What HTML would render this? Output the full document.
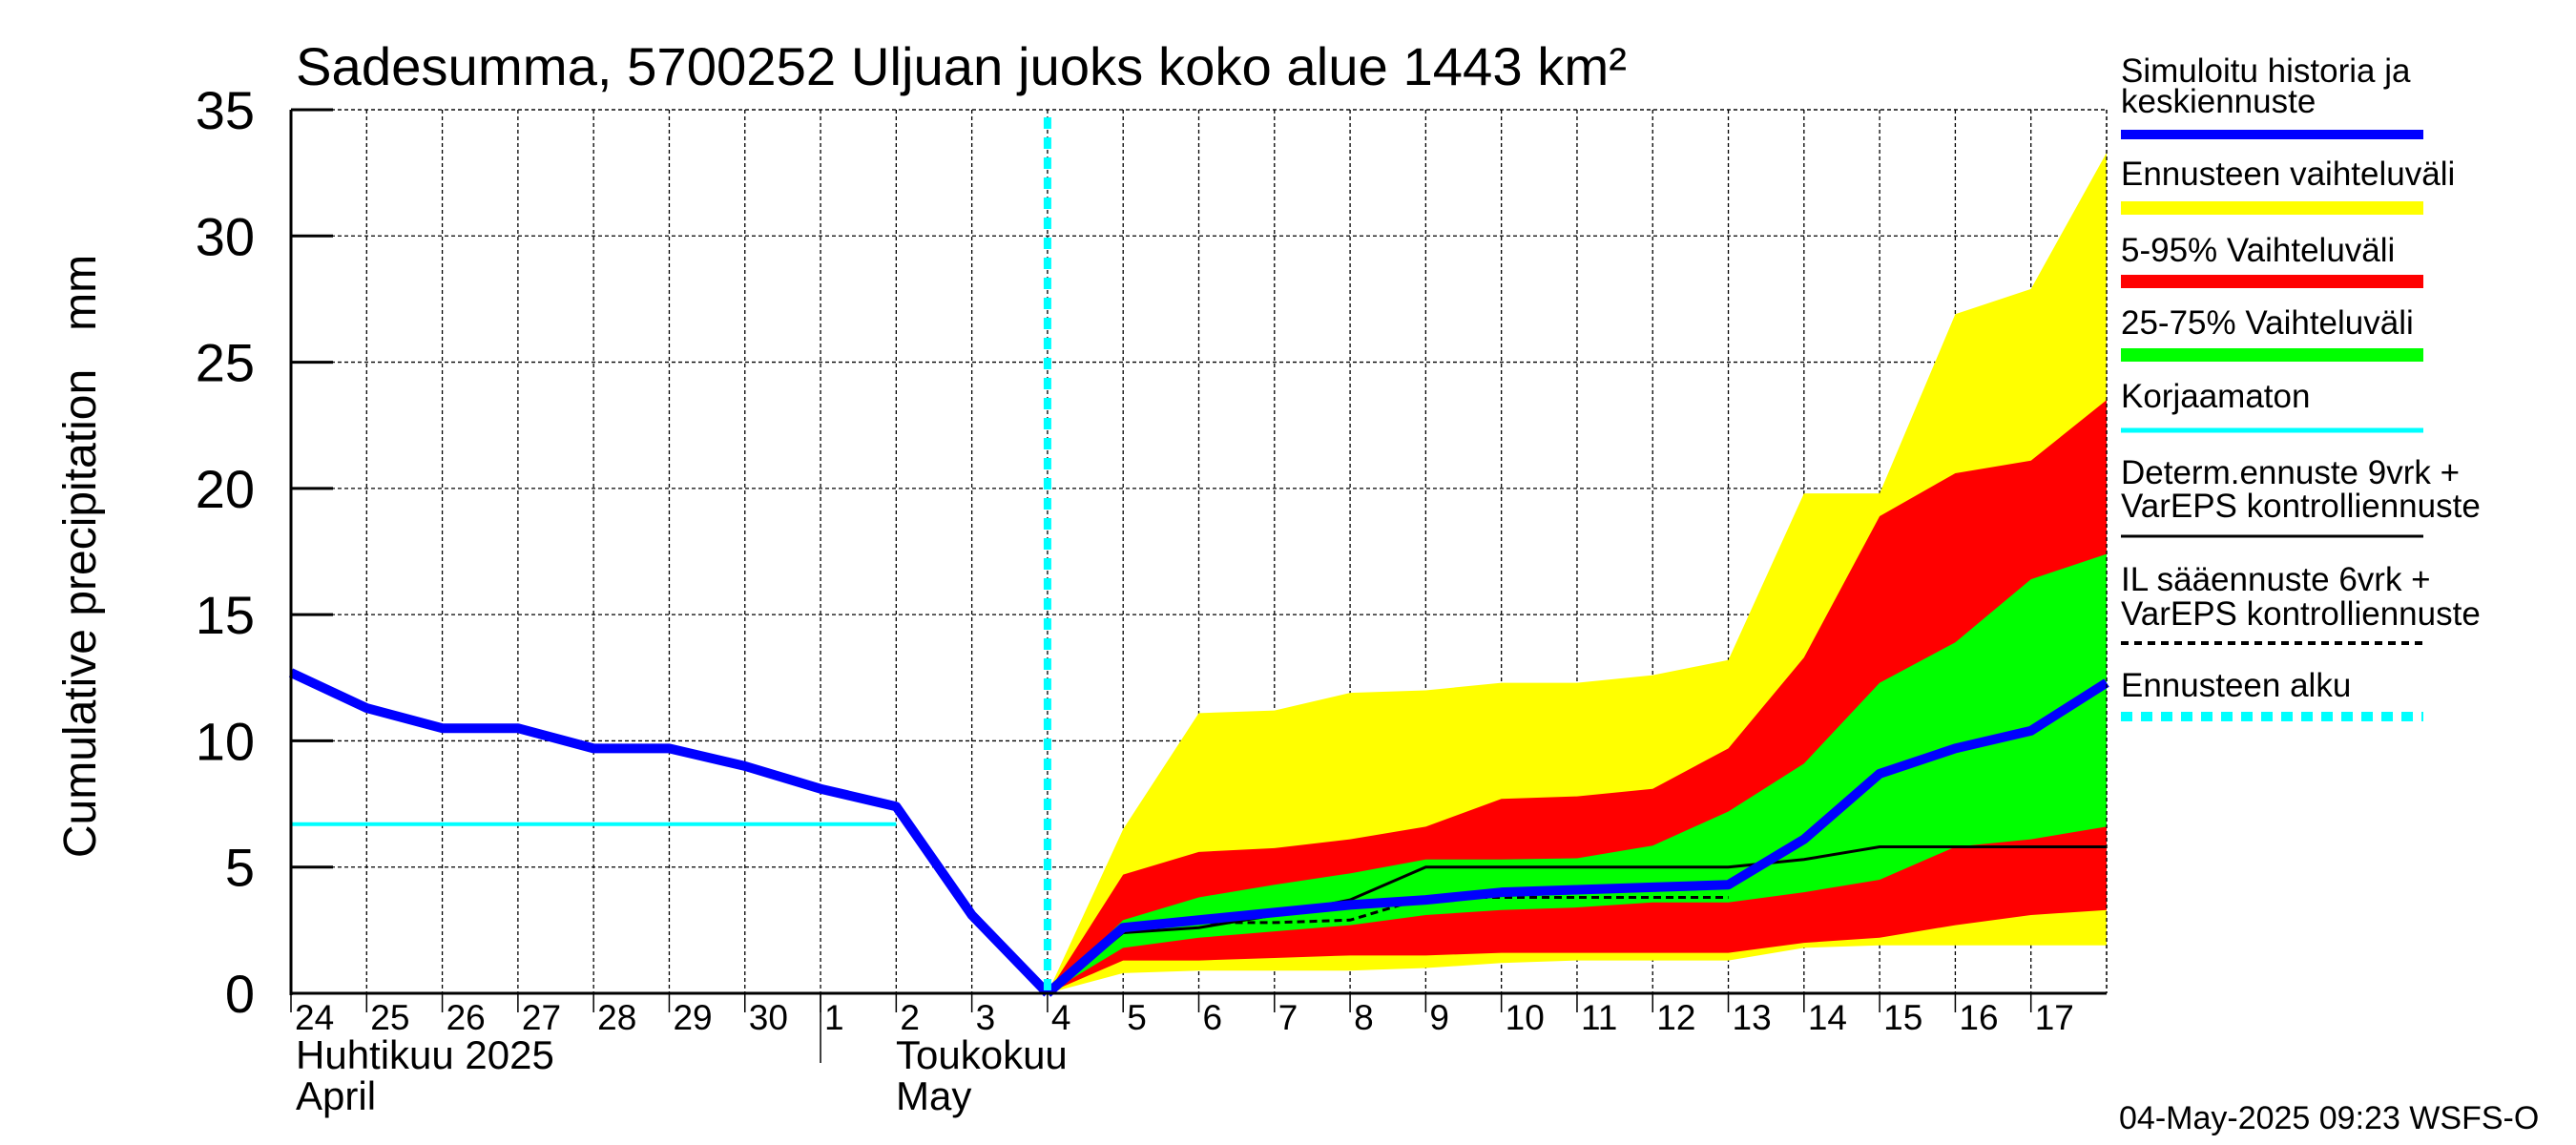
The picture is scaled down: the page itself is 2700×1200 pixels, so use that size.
<!DOCTYPE html>
<html><head><meta charset="utf-8"><style>
html,body{margin:0;padding:0;background:#fff;}
svg{display:block;font-family:"Liberation Sans",sans-serif;}
</style></head><body>
<svg id="chart" width="2700" height="1200" viewBox="0 0 2700 1200" xmlns="http://www.w3.org/2000/svg">
<text x="310" y="89" font-size="56" textLength="1395" lengthAdjust="spacingAndGlyphs">Sadesumma, 5700252 Uljuan juoks koko alue 1443 km²</text>
<text transform="translate(100,583) rotate(-90)" font-size="48" text-anchor="middle" xml:space="preserve">Cumulative precipitation   mm</text>
<g id="grid"></g>
<g id="bands"></g>
<g id="lines"></g>
<g id="axes"></g>
<g id="legend"></g>
<text x="2221" y="1183" font-size="34">04-May-2025 09:23 WSFS-O</text>
</svg>
<script>
const dayLabels=["24","25","26","27","28","29","30","1","2","3","4","5","6","7","8","9","10","11","12","13","14","15","16","17"];
const yTicks=[0,5,10,15,20,25,30,35];
const histDays=[0,1,2,3,4,5,6,7,8,9,10];
const histVals=[12.7,11.3,10.5,10.5,9.7,9.7,9.0,8.1,7.4,3.1,0];
const fcDays=[10,11,12,13,14,15,16,17,18,19,20,21,22,23,24];
const blueFc=[0,2.6,2.9,3.2,3.5,3.7,4.0,4.1,4.2,4.3,6.1,8.7,9.7,10.4,12.3];
const yellowHi=[0,6.5,11.1,11.2,11.9,12.0,12.3,12.3,12.6,13.2,19.8,19.8,26.9,27.9,33.3];
const yellowLo=[0,0.8,0.9,0.9,0.9,1.0,1.2,1.3,1.3,1.3,1.8,1.9,1.9,1.9,1.9];
const redHi=[0,4.7,5.6,5.75,6.1,6.6,7.7,7.8,8.1,9.7,13.3,18.9,20.6,21.1,23.5];
const redLo=[0,1.3,1.3,1.4,1.5,1.5,1.6,1.6,1.6,1.6,2.0,2.2,2.7,3.1,3.3];
const greenHi=[0,2.9,3.8,4.3,4.75,5.3,5.3,5.35,5.85,7.2,9.1,12.3,13.9,16.4,17.4];
const greenLo=[0,1.8,2.2,2.45,2.7,3.1,3.3,3.4,3.6,3.6,4.0,4.5,5.8,6.1,6.6];
const determ=[0,2.4,2.6,3.1,3.7,5.0,5.0,5.0,5.0,5.0,5.3,5.8,5.8,5.8,5.8];
const ilDays=[10,11,12,13,14,15,16,17,18,19];
const ilVals=[0,2.5,2.8,2.8,2.9,3.8,3.8,3.8,3.8,3.8];
const korjDays=[0,8];
const korjVals=[6.7,6.7];
const forecastStart=10;

const L=305,R=2208,T=115,B=1041,ND=24,YMAX=35;
const xs=d=>L+(R-L)*d/ND;
const ys=v=>B-(B-T)*v/YMAX;
const NS="http://www.w3.org/2000/svg";
function mk(tag,parent,attrs){const e=document.createElementNS(NS,tag);for(const k in attrs)e.setAttribute(k,attrs[k]);parent.appendChild(e);return e;}
const grid=document.getElementById('grid'),bands=document.getElementById('bands'),lines=document.getElementById('lines'),axes=document.getElementById('axes'),legend=document.getElementById('legend');
for(let d=1;d<=ND;d++){const l=mk('line',grid,{x1:xs(d),x2:xs(d),y1:T,y2:B,stroke:'#000','stroke-width':1.3,'stroke-dasharray':'4,3'});

}
yTicks.forEach(v=>{if(v===0)return;const l=mk('line',grid,{x1:L,x2:R,y1:ys(v),y2:ys(v),stroke:'#000','stroke-width':1.3,'stroke-dasharray':'4,3'});

});
function band(hi,lo,color,name){let p=fcDays.map((d,i)=>xs(d)+','+ys(hi[i]));for(let i=fcDays.length-1;i>=0;i--)p.push(xs(fcDays[i])+','+ys(lo[i]));
const e=mk('polygon',bands,{points:p.join(' '),fill:color});

}
band(yellowHi,yellowLo,'#ffff00','band-full-range');
band(redHi,redLo,'#ff0000','band-5-95');
band(greenHi,greenLo,'#00ff00','band-25-75');
function pl(days,vals,attrs,name){const e=mk('polyline',lines,Object.assign({points:days.map((d,i)=>xs(d)+','+ys(vals[i])).join(' '),fill:'none'},attrs));

}
pl(korjDays,korjVals,{stroke:'#00ffff','stroke-width':4},'uncorrected-line');
pl(ilDays,ilVals,{stroke:'#000','stroke-width':3,'stroke-dasharray':'8,5'},'il-forecast-line');
pl(fcDays,determ,{stroke:'#000','stroke-width':3},'determ-forecast-line');
pl(histDays,histVals,{stroke:'#0000ff','stroke-width':10,'stroke-linejoin':'round'},'simulated-history-line');
pl(fcDays,blueFc,{stroke:'#0000ff','stroke-width':10,'stroke-linejoin':'round'},'median-forecast-line');
const fs=mk('line',lines,{x1:xs(forecastStart),x2:xs(forecastStart),y1:T+8,y2:B,stroke:'#00ffff','stroke-width':8,'stroke-dasharray':'12,9'});


mk('line',axes,{x1:L,x2:L,y1:T,y2:B+2,stroke:'#000','stroke-width':3});
mk('line',axes,{x1:L,x2:R,y1:B,y2:B,stroke:'#000','stroke-width':3});
mk('line',axes,{x1:L,x2:R,y1:T,y2:T,stroke:'#000','stroke-width':1.3,'stroke-dasharray':'4,3'});
mk('line',axes,{x1:R,x2:R,y1:T,y2:B,stroke:'#000','stroke-width':1.3,'stroke-dasharray':'4,3'});
yTicks.forEach(v=>{mk('line',axes,{x1:L,x2:L+44,y1:ys(v),y2:ys(v),stroke:'#000','stroke-width':3});
const t=mk('text',axes,{x:267,y:ys(v)+20,'font-size':56,'text-anchor':'end'});t.textContent=v;

});
dayLabels.forEach((s,i)=>{mk('line',axes,{x1:xs(i),x2:xs(i),y1:B,y2:B+20,stroke:'#000','stroke-width':1.5});
const t=mk('text',axes,{x:xs(i)+4,y:1079,'font-size':37});t.textContent=s;

});
mk('line',axes,{x1:xs(7),x2:xs(7),y1:B,y2:1114,stroke:'#000','stroke-width':1.5});
[["Huhtikuu  2025",310,1120],["April",310,1163],["Toukokuu",939,1120],["May",939,1163]].forEach(a=>{const t=mk('text',axes,{x:a[1],y:a[2],'font-size':42,'xml:space':'preserve'});t.textContent=a[0];

});
const LX=2223,LX2=2540;
[["Simuloitu historia ja",86],["keskiennuste",118],["Ennusteen vaihteluväli",194],["5-95% Vaihteluväli",274],["25-75% Vaihteluväli",350],["Korjaamaton",427],["Determ.ennuste 9vrk +",507],["VarEPS kontrolliennuste",542],["IL sääennuste 6vrk  +",619],["  VarEPS kontrolliennuste",655],["Ennusteen alku",730]].forEach(a=>{const t=mk('text',legend,{x:LX,y:a[1],'font-size':35,'xml:space':'preserve'});t.textContent=a[0];

});
[[141,'#0000ff',10,null],[218,'#ffff00',14,null],[295,'#ff0000',14,null],[372,'#00ff00',14,null],[451,'#00ffff',5,null],[562,'#000',3,null],[674,'#000',4,'8,6'],[751,'#00ffff',10,'12,9']].forEach(a=>{const at={x1:LX,x2:LX2,y1:a[0],y2:a[0],stroke:a[1],'stroke-width':a[2]};if(a[3])at['stroke-dasharray']=a[3];const e=mk('line',legend,at);

});
</script>
</body></html>
